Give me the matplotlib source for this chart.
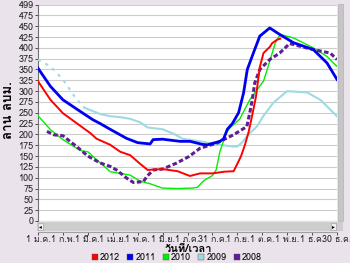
import matplotlib
matplotlib.use("Agg")
import matplotlib.pyplot as plt
from matplotlib.patches import Rectangle
from matplotlib.lines import Line2D

plt.rcParams['font.family'] = ['Loma', 'DejaVu Sans']

# ตำแหน่งเดือน (0 = 1 ม.ค., 12 = 30 ธ.ค.)
เดือน_ticks = list(range(13))
ป้าย_x = ['1 ม.ค.', '1 ก.พ.', '1 มี.ค.', '1 เม.ย.', '1 พ.ค.', '1 มิ.ย.', '1 ก.ค.',
          '31 ก.ค.', '1 ก.ย.', '1 ต.ค.', '1 พ.ย.', '1 ธ.ค.', '30 ธ.ค.']
ค่า_y = list(range(0, 476, 25)) + [499]

# 2012
m_2012 = [0, 0.5, 1.0, 1.55, 2.1, 2.35, 2.9, 3.3, 3.7, 4.1, 4.4, 5.0, 5.6, 6.1, 6.5,
          7.0, 7.5, 7.85, 8.0, 8.15, 8.3, 8.45, 8.6, 8.75, 8.9, 9.05, 9.3, 9.4, 9.6, 9.72]
v_2012 = [323, 280, 249, 226, 203, 190, 176, 160, 152, 132, 118, 120, 115, 104, 110,
          110, 114, 115, 132, 150, 175, 205, 245, 288, 355, 388, 402, 411, 419, 421]

# 2011
m_2011 = [0, 0.5, 1.0, 1.7, 2.2, 2.5, 2.8, 3.55, 4.0, 4.5, 4.62, 5.0, 5.7, 6.1, 6.6,
          6.8, 7.3, 7.45, 7.6, 7.8, 8.05, 8.25, 8.4, 8.65, 8.9, 9.3, 9.7, 10.25, 11.05,
          11.6, 12.0]
v_2011 = [353, 311, 280, 253, 234, 225, 215, 191, 181, 178, 188, 189, 184, 184, 177,
          176, 184, 190, 212, 225, 250, 296, 350, 389, 427, 446, 431, 412, 396,
          365, 327]

# 2010
m_2010 = [0, 0.5, 1.0, 1.55, 1.75, 2.0, 2.5, 2.9, 3.3, 3.7, 4.1, 4.5, 5.0, 5.6, 6.2,
          6.4, 6.65, 7.0, 7.15, 7.3, 7.55, 7.7, 8.1, 8.5, 8.75, 9.05, 9.2, 9.4, 9.52,
          9.72, 10.25, 11.05, 11.6, 12.0]
v_2010 = [243, 211, 188, 168, 162, 160, 134, 114, 110, 106, 92, 86, 76, 75, 76,
          78, 93, 105, 118, 160, 203, 215, 236, 280, 300, 323, 350, 388, 411,
          431, 423, 400, 380, 357]

# 2009
m_2009 = [0, 0.5, 1.0, 1.5, 1.85, 2.5, 2.9, 3.3, 3.7, 4.1, 4.4, 5.0, 5.5, 5.8, 6.5,
          7.3, 7.8, 8.0, 8.2, 8.5, 8.78, 9.04, 9.44, 10.0, 10.8, 11.33, 12.0]
v_2009 = [373, 357, 327, 285, 262, 247, 242, 240, 236, 228, 216, 212, 200, 190, 184,
          176, 172, 172, 182, 203, 218, 242, 273, 300, 297, 280, 242]

# 2008
m_2008 = [0.36, 0.65, 1.0, 1.55, 2.0, 2.5, 2.9, 3.15, 3.56, 3.83, 4.23, 4.37, 4.63,
          5.0, 5.57, 6.06, 6.5, 7.18, 7.84, 8.38, 8.5, 8.6, 8.7, 8.9, 9.3, 9.7, 10.1,
          10.5, 11.05, 11.73, 12.0]
v_2008 = [207, 199, 197, 172, 150, 134, 126, 118, 99, 89, 91, 103, 118,
          120, 134, 149, 168, 180, 199, 218, 250, 280, 319, 350, 373, 388, 410,
          404, 396, 388, 373]

พื้นหลัง = '#EAE3EB'
W, H = 350, 263


def fx(px):
    return px / W


def fy(py):
    return 1 - py / H


fig = plt.figure(figsize=(3.5, 2.63), dpi=100, facecolor=พื้นหลัง)
ax = fig.add_axes([fx(38), fy(221), (337 - 38) / W, (221 - 5) / H])
ax.set_facecolor('white')

ax.plot(m_2009[:5], v_2009[:5], color='#9EDAE0', lw=1.5, ls=(0, (1.5, 2.5)), zorder=3)
ax.plot(m_2009[4:], v_2009[4:], color='#9EDAE0', lw=1.5, zorder=3)
ax.plot(m_2010, v_2010, color='#00EE00', lw=1.0, zorder=4)
ax.plot(m_2008, v_2008, color='#5E1F94', lw=2.2, ls=(0, (1.5, 0.8)), zorder=5)
ax.plot(m_2012, v_2012, color='#FF0000', lw=1.4, zorder=6)
ax.plot(m_2011, v_2011, color='#0000F0', lw=2.0, zorder=7)

ax.set_xlim(0, 12)
ax.set_ylim(0, 499)
ax.set_xticks(เดือน_ticks)
ax.set_xticklabels(ป้าย_x)
ax.set_yticks(ค่า_y)
ax.grid(axis='y', color='#CCCCCC', lw=0.8)
ax.set_axisbelow(True)
ax.tick_params(axis='y', labelsize=6.5, colors='#333333', labelcolor='#222222',
               length=2, width=0.6, pad=1)
ax.tick_params(axis='x', labelsize=6.4, colors='#333333', labelcolor='#222222',
               length=2, width=0.6, pad=0)

for s in ['top', 'right']:
    ax.spines[s].set_visible(False)
ax.spines['left'].set_color('#707070')
ax.spines['bottom'].set_position(('outward', 8))
ax.spines['bottom'].set_color('#A0A0A0')
ax.axhline(0, color='#808080', lw=0.8, zorder=2)

fig.text(fx(7), fy(110), 'ล้าน ลบม.', fontsize=9.5, fontweight='bold', rotation=90,
         ha='center', va='center')
fig.text(fx(188), fy(248.5), 'วันที่/เวลา', fontsize=8, fontweight='bold',
         ha='center', va='center')

# แถบเลื่อน
fig.add_artist(Rectangle((fx(37), fy(231)), (343 - 37) / W, 9 / H,
                         facecolor='#CDCDCD', edgecolor='none'))
fig.add_artist(Rectangle((fx(38), fy(230)), 5 / W, 7 / H,
                         facecolor='#EEEEEE', edgecolor='#999999', lw=0.4))
fig.add_artist(Rectangle((fx(331), fy(230)), 5 / W, 7 / H,
                         facecolor='#EEEEEE', edgecolor='#999999', lw=0.4))
fig.text(fx(40.5), fy(226.5), '◂', fontsize=4, ha='center', va='center',
         family='DejaVu Sans')
fig.text(fx(333.5), fy(226.5), '▸', fontsize=4, ha='center', va='center',
         family='DejaVu Sans')
fig.add_artist(Rectangle((fx(338), fy(221)), 5 / W, 217 / H,
                         facecolor='#C6C6C6', edgecolor='#A8A8A8', lw=0.4))

# คำอธิบาย
สี = ['#FF0000', '#0000F0', '#00EE00', '#9EDAE0', '#5E1F94']
ปี = ['2012', '2011', '2010', '2009', '2008']
handles = [Line2D([], [], ls='none', marker='s', markersize=4, markerfacecolor=c,
                  markeredgecolor='#555555', markeredgewidth=0.3) for c in สี]
fig.legend(handles, ปี, loc='center', bbox_to_anchor=(fx(177), fy(257.5)), ncol=5,
           frameon=False, fontsize=6.5, handlelength=0.6, handletextpad=0.3,
           columnspacing=0.8, borderpad=0)

fig.savefig('out.png', dpi=100, facecolor=พื้นหลัง)
